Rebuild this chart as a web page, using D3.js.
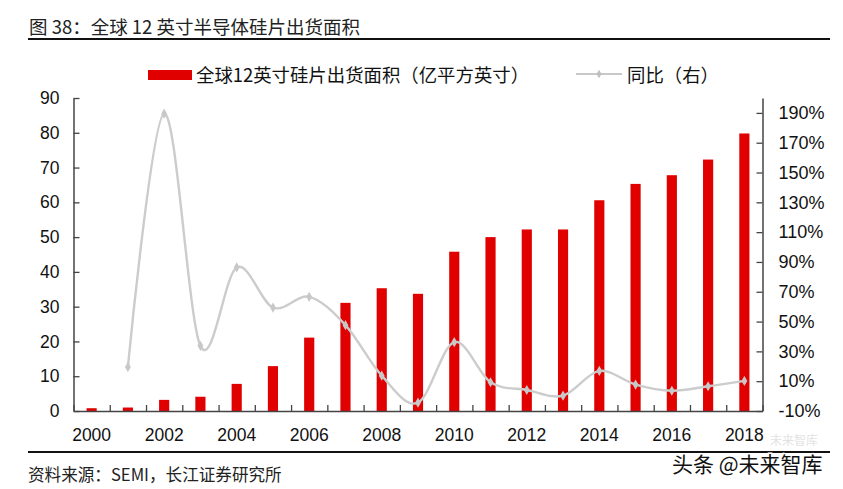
<!DOCTYPE html>
<html>
<head>
<meta charset="utf-8">
<script src="https://cdn.jsdelivr.net/npm/d3@7"></script>
<style>
body { margin: 0; background: #fff; }
text { font-family: "Liberation Sans", Arial, "Noto Sans CJK SC", sans-serif; }
</style>
</head>
<body>
<script>
// data
var years = d3.range(2000, 2019)
var area = [0.8, 1.0, 3.2, 4.1, 7.8, 12.9, 21.1, 31.1, 35.3, 33.7, 45.8, 50.0, 52.2, 52.2, 60.6, 65.3, 67.8, 72.3, 79.8]
var yoy = [null, 19.5, 189.5, 33.7, 86.3, 59.4, 66.6, 47.6, 13.7, -4.4, 36.2, 9.3, 4.1, 0.3, 16.9, 7.7, 3.6, 6.6, 10.2]
var leftTicks = [0, 10, 20, 30, 40, 50, 60, 70, 80, 90]
var rightTicks = [-10, 10, 30, 50, 70, 90, 110, 130, 150, 170, 190]

var body = d3.select('body')
var svg = body.append('svg')
	.attr('width', 843)
	.attr('height', 489)

var cjk = '"Noto Sans CJK SC", "Liberation Sans", sans-serif'

//title
svg.append('text')
	.attr('x', 29).attr('y', 34)
	.style('font-family', cjk)
	.style('font-size', '18.5px')
	.attr('fill', '#222')
	.text('图 38：全球 12 英寸半导体硅片出货面积')

svg.append('line')
	.attr('x1', 28).attr('x2', 830)
	.attr('y1', 39).attr('y2', 39)
	.attr('stroke', '#111').attr('stroke-width', 2)

//scales
var x = d3.scaleBand().domain(years).range([73.5, 762.5]).paddingInner(0.72).paddingOuter(0.36)
var y = d3.scaleLinear().domain([0, 90]).range([411, 98])
var y2 = d3.scaleLinear().domain([-10, 200]).range([411, 98])

var axisColor = '#444'

//bars
svg.append('g').selectAll('rect')
	.data(area)
	.enter().append('rect')
	.attr('x', function(d, i){ return x(years[i]) })
	.attr('width', x.bandwidth())
	.attr('y', function(d){ return y(d) })
	.attr('height', function(d){ return y(0) - y(d) })
	.attr('fill', '#e00000')

//yoy line
var pts = years.map(function(yr, i){ return [yr, yoy[i]] }).filter(function(p){ return p[1] !== null })
var line = d3.line()
	.x(function(p){ return x(p[0]) + x.bandwidth() / 2 })
	.y(function(p){ return y2(p[1]) })
	.curve(d3.curveCatmullRom.alpha(0))

svg.append('path')
	.attr('d', line(pts))
	.attr('fill', 'none')
	.attr('stroke', '#cccccc')
	.attr('stroke-width', 2.4)

svg.append('g').selectAll('path')
	.data(pts)
	.enter().append('path')
	.attr('d', d3.symbol().type(d3.symbolDiamond).size(30))
	.attr('transform', function(p){ return 'translate(' + (x(p[0]) + x.bandwidth() / 2) + ',' + y2(p[1]) + ')' })
	.attr('fill', '#c8c8c8')

//left axis
var leftAxis = svg.append('g')
	.attr('transform', 'translate(73.5,0)')
	.call(d3.axisLeft(y).tickValues(leftTicks).tickSize(-6).tickPadding(14).tickSizeOuter(0))
//right axis
var rightAxis = svg.append('g')
	.attr('transform', 'translate(762.5,0)')
	.call(d3.axisRight(y2).tickValues(rightTicks).tickSize(-6).tickPadding(16).tickSizeOuter(0)
		.tickFormat(function(d){ return d + '%' }))
//bottom axis
var xb = d3.scaleLinear().domain([0, years.length]).range([73.5, 762.5])
var bottomAxis = svg.append('g')
	.attr('transform', 'translate(0,411)')
	.call(d3.axisBottom(xb).tickValues(d3.range(0, years.length + 1)).tickSize(-6).tickFormat('').tickSizeOuter(0))

svg.append('g')
	.selectAll('text')
	.data(years.filter(function(yr){ return yr % 2 === 0 }))
	.enter().append('text')
	.attr('x', function(yr){ return x(yr) + x.bandwidth() / 2 })
	.attr('y', 441)
	.attr('text-anchor', 'middle')
	.style('font-size', '17.5px')
	.attr('fill', '#111')
	.text(function(yr){ return yr })

;[leftAxis, rightAxis, bottomAxis].forEach(function(g){
	g.select('.domain').attr('stroke', axisColor).attr('stroke-width', 1.5)
	g.selectAll('.tick line').attr('stroke', axisColor).attr('stroke-width', 1.3)
	g.selectAll('.tick text').style('font-size', '17.5px').attr('fill', '#111')
		.style('font-family', '"Liberation Sans", Arial, sans-serif')
})
rightAxis.selectAll('.tick text').style('font-size', '18px')

//legend
svg.append('rect')
	.attr('x', 148).attr('y', 70)
	.attr('width', 44).attr('height', 10)
	.attr('fill', '#e00000')
svg.append('text')
	.attr('x', 196).attr('y', 82)
	.style('font-family', cjk)
	.style('font-size', '18.4px')
	.attr('fill', '#111')
	.text('全球12英寸硅片出货面积（亿平方英寸）')

svg.append('line')
	.attr('x1', 576).attr('x2', 622)
	.attr('y1', 74).attr('y2', 74)
	.attr('stroke', '#c8c8c8').attr('stroke-width', 2)
svg.append('path')
	.attr('d', d3.symbol().type(d3.symbolDiamond).size(22))
	.attr('transform', 'translate(599,74)')
	.attr('fill', '#c0c0c0')
svg.append('text')
	.attr('x', 627).attr('y', 82)
	.style('font-family', cjk)
	.style('font-size', '18.4px')
	.attr('fill', '#111')
	.text('同比（右）')

//footer
svg.append('line')
	.attr('x1', 28).attr('x2', 830)
	.attr('y1', 452).attr('y2', 452)
	.attr('stroke', '#111').attr('stroke-width', 2)

svg.append('text')
	.attr('x', 28).attr('y', 481)
	.style('font-family', cjk)
	.style('font-size', '16.6px')
	.attr('fill', '#222')
	.text('资料来源：SEMI，长江证券研究所')

//watermark
svg.append('text')
	.attr('x', 770).attr('y', 445)
	.style('font-family', cjk)
	.style('font-size', '12px')
	.attr('fill', '#e2e2e2')
	.text('未来智库')
svg.append('text')
	.attr('x', 672).attr('y', 472)
	.style('font-family', cjk)
	.style('font-size', '21px')
	.attr('fill', '#111')
	.attr('stroke', '#fff')
	.attr('stroke-width', 3)
	.attr('paint-order', 'stroke')
	.text('头条 @未来智库')
</script>
</body>
</html>
